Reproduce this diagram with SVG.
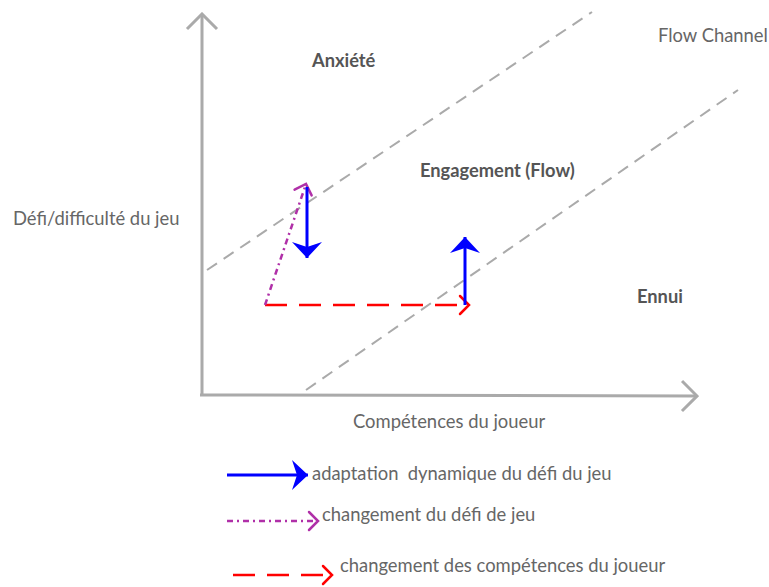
<svg xmlns="http://www.w3.org/2000/svg" width="769" height="587" viewBox="0 0 769 587">
  <style>
    .lbl { font-family: Lato, "Liberation Sans", sans-serif; font-size: 18.4px; fill: #666; }
    .bold { font-family: Lato, "Liberation Sans", sans-serif; font-size: 18.3px; font-weight: bold; fill: #555; }
    .axis { stroke: #aaa; stroke-width: 3; fill: none; }
    .chan { stroke: #aaa; stroke-width: 2; stroke-dasharray: 12 8; fill: none; }
    .blue { stroke: #0000ff; stroke-width: 3; fill: none; }
    .red { stroke: #ff0000; stroke-width: 2.5; stroke-dasharray: 22 12; fill: none; }
    .purple { stroke: #b030a8; stroke-width: 2.5; stroke-dasharray: 6 4 2 4; fill: none; }
  </style>
  <defs>
    <marker id="mBlue" markerUnits="userSpaceOnUse" viewBox="0 0 16 30" refX="16" refY="15" markerWidth="16" markerHeight="30" orient="auto">
      <path d="M16,15 L0,0 L5,15 L0,30 Z" fill="#0000ff"/>
    </marker>
    <marker id="mRed" markerUnits="userSpaceOnUse" viewBox="-12 -11 14 22" refX="0" refY="0" markerWidth="14" markerHeight="22" orient="auto">
      <path d="M-9,-9 L0,0 L-9,9" fill="none" stroke="#ff0000" stroke-width="2.5" stroke-linecap="round"/>
    </marker>
    <marker id="mPurple" markerUnits="userSpaceOnUse" viewBox="-12 -11 14 22" refX="0" refY="0" markerWidth="14" markerHeight="22" orient="auto">
      <path d="M-9,-9 L0,0 L-9,9" fill="none" stroke="#b030a8" stroke-width="2.5" stroke-linecap="round"/>
    </marker>
    <marker id="mAxis" markerUnits="userSpaceOnUse" viewBox="-18 -17 20 34" refX="0" refY="0" markerWidth="20" markerHeight="34" orient="auto">
      <path d="M-15,-15 L0,0 L-15,15" fill="none" stroke="#aaa" stroke-width="3"/>
    </marker>
  </defs>

  <g id="axes">
    <line class="axis" x1="202" y1="395" x2="202" y2="14" marker-end="url(#mAxis)"/>
    <line class="axis" x1="200" y1="395" x2="697" y2="396" marker-end="url(#mAxis)"/>
  </g>

  <g id="channel">
    <line class="chan" x1="207" y1="270" x2="592" y2="12"/>
    <line class="chan" x1="306" y1="390" x2="738" y2="90"/>
  </g>

  <g id="label-anxiete"><text class="bold" x="312" y="67">Anxiété</text></g>
  <g id="label-engagement"><text class="bold" x="420" y="177">Engagement (Flow)</text></g>
  <g id="label-ennui"><text class="bold" x="637" y="303">Ennui</text></g>
  <g id="label-flow-channel"><text class="lbl" x="658" y="42">Flow Channel</text></g>
  <g id="label-y"><text class="lbl" x="13" y="225">Défi/difficulté du jeu</text></g>
  <g id="label-x"><text class="lbl" x="353" y="428">Compétences du joueur</text></g>

  <g id="connectors">
    <line class="red" x1="265" y1="305" x2="469" y2="305" marker-end="url(#mRed)"/>
    <line class="purple" x1="265" y1="305" x2="306" y2="184" marker-end="url(#mPurple)"/>
    <line class="blue" x1="307" y1="187" x2="307" y2="258" marker-end="url(#mBlue)"/>
    <line class="blue" x1="465" y1="305" x2="465" y2="237" marker-end="url(#mBlue)"/>
  </g>

  <g id="legend">
    <g id="legend-blue">
      <line class="blue" x1="227" y1="475" x2="308" y2="475" marker-end="url(#mBlue)"/>
      <text class="lbl" x="312" y="480" xml:space="preserve">adaptation  dynamique du défi du jeu</text>
    </g>
    <g id="legend-purple">
      <line class="purple" x1="227" y1="521" x2="318" y2="521" marker-end="url(#mPurple)"/>
      <text class="lbl" x="322" y="521">changement du défi de jeu</text>
    </g>
    <g id="legend-red">
      <line class="red" x1="233" y1="575" x2="332" y2="575" marker-end="url(#mRed)"/>
      <text class="lbl" x="340" y="572">changement des compétences du joueur</text>
    </g>
  </g>
</svg>
